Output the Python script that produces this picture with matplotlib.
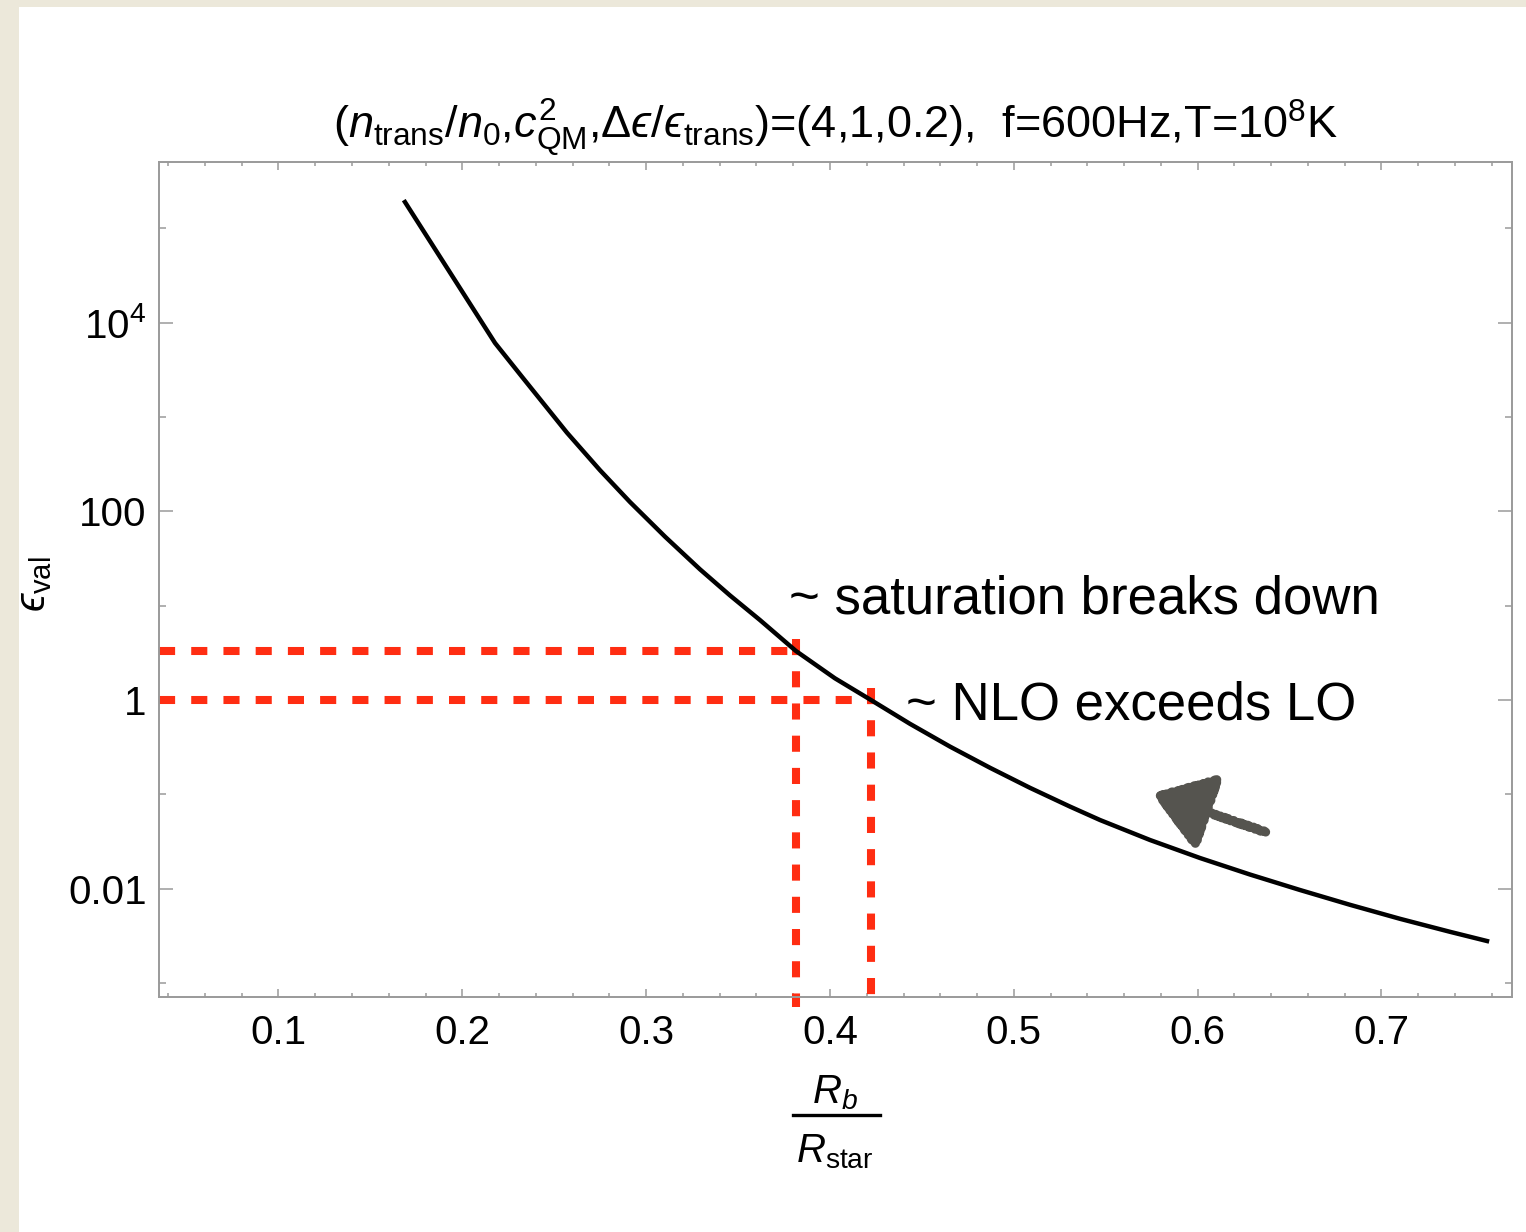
import matplotlib
matplotlib.use('Agg')
import matplotlib.pyplot as plt
from matplotlib.lines import Line2D
from matplotlib.patches import Rectangle
import numpy as np

plt.rcParams['font.family'] = ['Liberation Sans', 'DejaVu Sans']
plt.rcParams['mathtext.fontset'] = 'custom'
plt.rcParams['mathtext.rm'] = 'Liberation Sans'
plt.rcParams['mathtext.it'] = 'Liberation Sans:italic'
plt.rcParams['mathtext.bf'] = 'Liberation Sans:bold'
plt.rcParams['mathtext.fallback'] = 'stixsans'

# curve
rb_ratio = [0.1688, 0.2178, 0.2330, 0.2569, 0.2749, 0.2912, 0.3103, 0.3293,
            0.3456, 0.3619, 0.3815, 0.4027, 0.4223, 0.4435, 0.4653, 0.4871,
            0.5088, 0.5306, 0.5469, 0.5741, 0.6013, 0.6285, 0.6557, 0.6829,
            0.7101, 0.7373, 0.7574]
eps_val = [1.908e5, 6101, 2596, 684.4, 273.3, 125.8, 53.9, 24.3,
           12.86, 7.05, 3.31, 1.699, 1.0, 0.5594, 0.3206, 0.1910,
           0.1172, 0.07408, 0.05340, 0.03278, 0.02112, 0.01411, 0.009669, 0.006737,
           0.004786, 0.003484, 0.002783]

# red guide lines: (x, y) where they meet the curve
guide_x = [0.3815, 0.4223]
guide_y = [3.3, 1.0]

x_major = [0.1, 0.2, 0.3, 0.4, 0.5, 0.6, 0.7]
x_labels = ['0.1', '0.2', '0.3', '0.4', '0.5', '0.6', '0.7']
x_minor = np.arange(0.04, 0.77, 0.02)
y_major = [1e-2, 1, 1e2, 1e4]
y_labels = ['0.01', '1', '100', r'$10^4$']
y_minor = [1e-3, 1e-1, 1e1, 1e3, 1e5]

xlim = (0.035, 0.771)
ylim = (10 ** -3.149, 10 ** 5.705)

EPS = '\u03f5'

fig = plt.figure(figsize=(15.26, 12.32), dpi=100)
fig.patch.set_facecolor('#ece8da')
fig.patches.append(Rectangle((19 / 1526, 0), 1, 1 - 7 / 1232, transform=fig.transFigure,
                             facecolor='white', edgecolor='none', zorder=-10))

ax = fig.add_axes([159 / 1526, 1 - 997 / 1232, (1512 - 159) / 1526, (997 - 162) / 1232])
ax.set_facecolor('none')
ax.set_yscale('log')
ax.set_xlim(*xlim)
ax.set_ylim(*ylim)

ax.plot(rb_ratio, eps_val, color='black', lw=3.2, solid_joinstyle='round', zorder=3)

red = '#ff2d12'
y_bottom = 10 ** -3.26
for gx, gy in zip(guide_x, guide_y):
    ax.plot([xlim[0], gx], [gy, gy], color=red, lw=5.8, dashes=(2, 2), zorder=2, clip_on=False)
    ax.plot([gx, gx], [gy * 1.35, y_bottom], color=red, lw=5.8, dashes=(2, 2), zorder=2, clip_on=False)

ax.text(0.3775, 6.3, '~ saturation breaks down', fontsize=38, ha='left', va='bottom')
ax.text(0.4414, 0.88, '~ NLO exceeds LO', fontsize=38, ha='left', va='center')

# hand drawn arrow
ann = ax.annotate('', xy=(0.5755, 0.102), xytext=(0.637, 0.0398),
                  arrowprops=dict(arrowstyle='-|>,head_length=1.75,head_width=1.2',
                                  mutation_scale=20, lw=6.5, color='#55544f',
                                  shrinkA=0, shrinkB=0))
ann.arrow_patch.set_sketch_params(0.8, 6, 3)

# ticks
ax.set_xticks(x_major)
ax.set_xticklabels(x_labels)
ax.set_xticks(x_minor, minor=True)
ax.set_yticks(y_major)
ax.set_yticklabels(y_labels)
ax.set_yticks(y_minor, minor=True)
ax.yaxis.set_minor_formatter(matplotlib.ticker.NullFormatter())

gray = '#9a9a9a'
for s in ax.spines.values():
    s.set_color(gray)
    s.set_linewidth(1.4)
ax.tick_params(which='both', direction='in', top=True, right=True, color=gray, width=1.1,
               labelsize=29, labelcolor='black')
ax.tick_params(axis='x', which='major', length=5.8, pad=12)
ax.tick_params(axis='x', which='minor', length=2.9)
ax.tick_params(axis='y', which='major', length=9.9, pad=9)
ax.tick_params(axis='y', which='minor', length=5)

ax.set_title('($n_{\\rm trans}/n_0$,$c^2_{\\rm QM}$,$\\Delta' + EPS + '/' + EPS +
             '_{\\rm trans}$)=(4,1,0.2),  f=600Hz,T=10$^8$K', fontsize=32.5, pad=17)

# axis labels
fig.text(34 / 1526, 1 - 584 / 1232, '$' + EPS + '_{\\rm val}$', fontsize=30, rotation=90,
         ha='center', va='center')
fig.text(835 / 1526, 1 - 1093 / 1232, r'$R_b$', fontsize=29, ha='center', va='center')
fig.lines.append(Line2D([793 / 1526, 880 / 1526], [1 - 1115 / 1232, 1 - 1115 / 1232],
                        transform=fig.transFigure, color='black', lw=2.4))
fig.text(835 / 1526, 1 - 1152 / 1232, r'$R_{\rm star}$', fontsize=29, ha='center', va='center')

fig.savefig('out.png', dpi=100, facecolor=fig.get_facecolor())
